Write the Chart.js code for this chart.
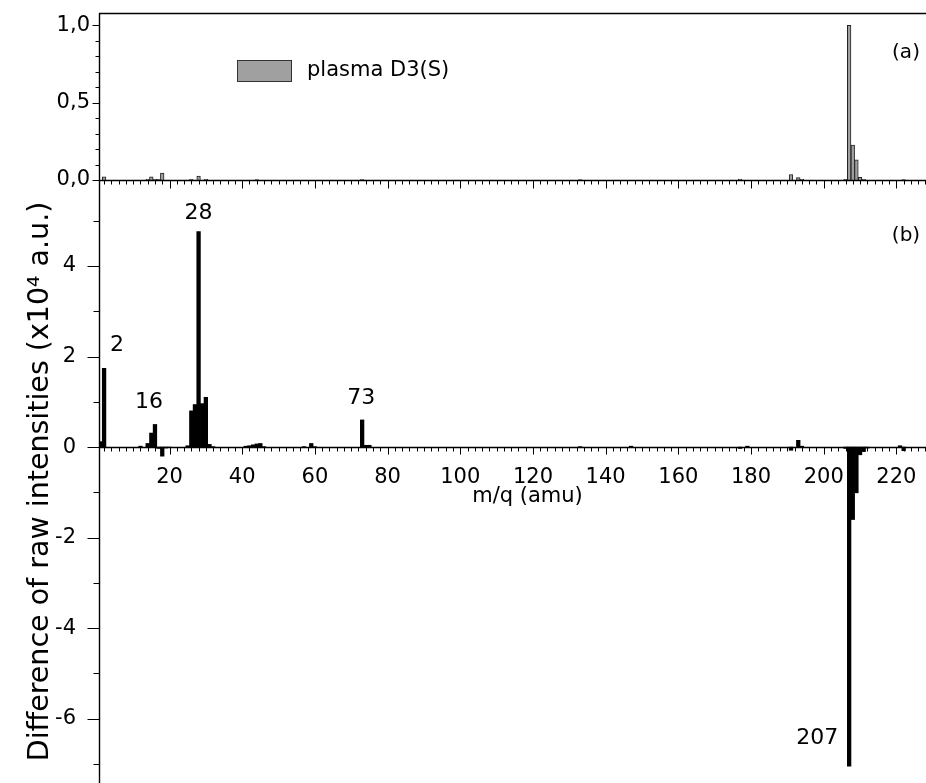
<!DOCTYPE html>
<html>
<head>
<meta charset="utf-8">
<title>m/q spectrum difference</title>
<script src="https://cdn.jsdelivr.net/npm/chart.js@4.4.1/dist/chart.umd.min.js"></script>
<style>
  html, body { margin: 0; padding: 0; background: #fff; overflow: hidden; }
  #wrap { position: relative; width: 926px; height: 783px; overflow: hidden; }
  #wrap canvas { position: absolute; left: 0; }
  #chart-b { top: 180px; }
  #chart-a { top: 0; }
</style>
</head>
<body>
<div id="wrap">
  <canvas id="chart-b" width="956" height="603"></canvas>
  <canvas id="chart-a" width="956" height="190"></canvas>
</div>
<script>
/* Mass spectrum: plasma D3(S) (a) and difference of raw intensities (b) */

// ─── Data ────────────────────────────────────────────────────────────────────

// panel (a): normalised intensity of plasma D3(S)
const topMass = [2, 14, 15, 16, 17, 18, 26, 28, 30, 44, 73, 133, 177, 191, 193, 194, 206, 207, 208, 209, 210, 211, 222];
const topRel  = [0.02, 0.005, 0.02, 0.005, 0.005, 0.045, 0.005, 0.025, 0.005, 0.003, 0.002, 0.002, 0.006, 0.035, 0.015, 0.005, 0.005, 1.0, 0.226, 0.13, 0.017, 0.005, 0.003];

// panel (b): difference of raw intensities, x10^4 a.u.
const botMass = [1, 2, 12, 14, 15, 16, 17, 18, 19, 20, 25, 26, 27, 28, 29, 30, 31, 32, 41, 42, 43, 44, 45, 46, 57, 59, 60, 73, 74, 75, 133, 147, 177, 179, 191, 193, 194, 206, 207, 208, 209, 210, 211, 212, 221, 222];
const botDiff = [0.12, 1.74, 0.02, 0.08, 0.31, 0.5, -0.03, -0.2, -0.02, -0.01, 0.03, 0.8, 0.94, 4.76, 0.96, 1.1, 0.06, 0.01, 0.02, 0.03, 0.05, 0.07, 0.08, 0.01, 0.01, 0.08, 0.01, 0.6, 0.04, 0.04, 0.01, 0.02, -0.03, 0.02, -0.07, 0.15, 0.02, -0.03, -7.05, -1.6, -1.01, -0.17, -0.1, -0.02, 0.03, -0.08];

// peaks that carry a mass label in panel (b)
const labelledPeaks = [2, 16, 28, 73, 207];

const X_MIN = 0.6, X_MAX = 236.4;

// ─── Drawing helpers ─────────────────────────────────────────────────────────

const FONT = '"DejaVu Sans", "Liberation Sans", sans-serif';
Chart.defaults.font.family = FONT;
Chart.defaults.color = '#000';

// label offsets (px) from the bar end
const LABEL_OFFSETS = { 2: [13, -23], 16: [-6, -22], 28: [0, -18], 73: [-1, -22], 207: [-32, -28] };

const isMultiple = (v, step) => Math.abs(v / step - Math.round(v / step)) < 1e-6;

// keep the plot frame exactly where the layout puts it (no label overhang padding)
const fixY = s => { s.width = 99; s.paddingTop = 0; s.paddingBottom = 0; };

// axis lines plus major/minor tick marks, Origin style
const axisFrame = {
  id: 'axisFrame',
  afterDraw(chart, args, o) {
    const { ctx, chartArea: a, scales: { x, y } } = chart;
    const y0 = Math.round(y.getPixelForValue(0)) + 0.5;
    const xl = Math.round(a.left) + 0.5;
    ctx.save();
    ctx.strokeStyle = '#000';

    ctx.lineWidth = 1.4;
    ctx.beginPath();
    ctx.moveTo(xl, a.top); ctx.lineTo(xl, a.bottom);
    ctx.moveTo(a.left, y0); ctx.lineTo(a.right, y0);
    if (o.boxTop) { ctx.moveTo(a.left, a.top + 0.5); ctx.lineTo(a.right, a.top + 0.5); }
    ctx.stroke();

    ctx.lineWidth = 1;
    ctx.beginPath();
    for (let i = Math.ceil(x.min / o.xMinor); i * o.xMinor <= x.max; i++) {
      const v = i * o.xMinor;
      const px = Math.round(x.getPixelForValue(v)) + 0.5;
      const len = isMultiple(v, o.xMajor) ? o.xMajorLen : o.xMinorLen;
      ctx.moveTo(px, y0); ctx.lineTo(px, y0 + len);
    }
    for (let i = Math.ceil(y.min / o.yMinor - 1e-6); i * o.yMinor <= y.max + 1e-9; i++) {
      const v = i * o.yMinor;
      const py = Math.round(y.getPixelForValue(v)) + 0.5;
      const len = isMultiple(v, o.yMajor) ? o.yMajorLen : o.yMinorLen;
      ctx.moveTo(xl, py); ctx.lineTo(xl - len, py);
    }
    ctx.stroke();

    if (o.tag) {
      ctx.font = `20px ${FONT}`;
      ctx.fillStyle = '#000';
      ctx.textAlign = 'center';
      ctx.textBaseline = 'middle';
      ctx.fillText(o.tag, a.right - 50, a.top + o.tagDy);
    }
    ctx.restore();
  },
};

// legend for panel (a), drawn inside the plot frame
const boxLegend = {
  id: 'boxLegend',
  afterDraw(chart) {
    const { ctx, chartArea: a } = chart;
    const ds = chart.data.datasets[0];
    const bx = a.left + 138, by = a.top + 47;
    ctx.save();
    ctx.fillStyle = ds.backgroundColor;
    ctx.strokeStyle = '#333';
    ctx.lineWidth = 1;
    ctx.fillRect(bx, by, 54, 21);
    ctx.strokeRect(bx + 0.5, by + 0.5, 54, 21);
    ctx.fillStyle = '#000';
    ctx.font = `21px ${FONT}`;
    ctx.textBaseline = 'middle';
    ctx.fillText(ds.label, bx + 70, by + 11);
    ctx.restore();
  },
};

// mass numbers above / beside the main peaks of panel (b)
const peakLabels = {
  id: 'peakLabels',
  afterDatasetsDraw(chart) {
    const { ctx, scales: { x, y } } = chart;
    ctx.save();
    ctx.font = `22px ${FONT}`;
    ctx.fillStyle = '#000';
    ctx.textAlign = 'center';
    ctx.textBaseline = 'middle';
    labelledPeaks.forEach(m => {
      const val = botDiff[botMass.indexOf(m)];
      const [dx, dy] = LABEL_OFFSETS[m];
      ctx.fillText(String(m), x.getPixelForValue(m) + dx, y.getPixelForValue(val) + dy);
    });
    ctx.restore();
  },
};

// ─── Panel (a) ───────────────────────────────────────────────────────────────

new Chart(document.getElementById('chart-a'), {
  type: 'bar',
  data: {
    datasets: [{
      label: 'plasma D3(S)',
      data: topMass.map((m, i) => ({ x: m, y: topRel[i] })),
      backgroundColor: '#a0a0a0',
      borderColor: '#222',
      borderWidth: 1,
      categoryPercentage: 1,
      barPercentage: 1,
    }],
  },
  options: {
    responsive: false,
    animation: false,
    events: [],
    layout: { padding: { top: 13, bottom: 10, left: 0, right: 0 } },
    plugins: {
      legend: { display: false },
      tooltip: { enabled: false },
      axisFrame: { boxTop: true, xMinor: 2, xMajor: 20, xMajorLen: 8, xMinorLen: 4,
                   yMinor: 0.1, yMajor: 0.5, yMajorLen: 7, yMinorLen: 4, tag: '(a)', tagDy: 40 },
    },
    scales: {
      x: { type: 'linear', min: X_MIN, max: X_MAX, offset: false, display: false },
      y: {
        min: 0, max: 1.08,
        grid: { display: false, drawTicks: false },
        border: { display: false },
        ticks: {
          stepSize: 0.5, includeBounds: false, padding: 9,
          font: { size: 21 },
          callback: v => v.toFixed(1).replace('.', ','),
        },
        afterFit: fixY,
      },
    },
  },
  plugins: [axisFrame, boxLegend],
});

// ─── Panel (b) ───────────────────────────────────────────────────────────────

new Chart(document.getElementById('chart-b'), {
  type: 'bar',
  data: {
    datasets: [{
      label: 'difference',
      data: botMass.map((m, i) => ({ x: m, y: botDiff[i] })),
      backgroundColor: '#000',
      borderWidth: 0,
      categoryPercentage: 1,
      barPercentage: 1,
    }],
  },
  options: {
    responsive: false,
    animation: false,
    events: [],
    layout: { padding: 0 },
    plugins: {
      legend: { display: false },
      tooltip: { enabled: false },
      axisFrame: { boxTop: false, xMinor: 2, xMajor: 20, xMajorLen: 7, xMinorLen: 4,
                   yMinor: 1, yMajor: 2, yMajorLen: 12, yMinorLen: 6, tag: '(b)', tagDy: 56 },
    },
    scales: {
      x: {
        type: 'linear', min: X_MIN, max: X_MAX, offset: false,
        position: { y: 0 },
        grid: { display: false, drawTicks: false, offset: false },
        border: { display: false },
        ticks: {
          stepSize: 20, includeBounds: false, autoSkip: false, maxRotation: 0,
          padding: 18, font: { size: 21 },
        },
        title: { display: true, text: 'm/q (amu)', font: { size: 21 }, padding: 0 },
        afterFit: s => { s.height = 62; s.paddingLeft = 0; s.paddingRight = 0; },
      },
      y: {
        min: -7.42, max: 5.9,
        grid: { display: false, drawTicks: false },
        border: { display: false },
        ticks: { stepSize: 2, includeBounds: false, padding: 23, font: { size: 21 } },
        title: {
          display: true,
          text: 'Difference of raw intensities (x10⁴ a.u.)',
          font: { size: 28.5 },
          padding: { top: 23, bottom: 0 },
        },
        afterFit: fixY,
      },
    },
  },
  plugins: [axisFrame, peakLabels],
});
</script>
</body>
</html>
